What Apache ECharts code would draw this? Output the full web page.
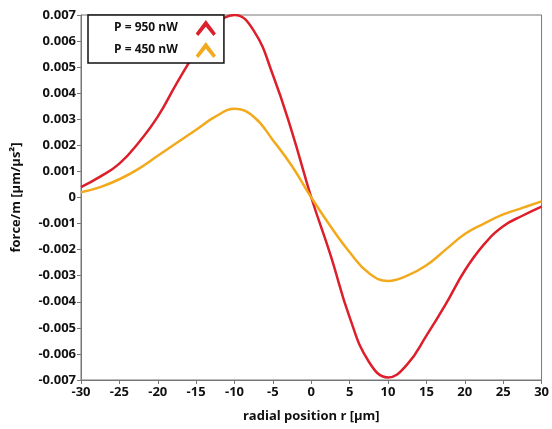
<!DOCTYPE html>
<html>
<head>
<meta charset="utf-8">
<script src="https://cdn.jsdelivr.net/npm/echarts@6/dist/echarts.min.js"></script>
<style>
html,body{margin:0;padding:0;background:#fff;}
#main{width:552px;height:429px;}
</style>
</head>
<body>
<div id="main"></div>
<script>
// radial position r [µm]
const radius = [-30,-27.5,-25,-22.5,-20,-17.5,-15,-12.5,-10,-7.5,-5,-2.5,0,2.5,5,7.5,10,12.5,15,17.5,20,22.5,25,27.5,30];
// force/m for P = 950 nW
const force950 = [0.0004,0.0008,0.0013,0.0021,0.0031,0.0044,0.0056,0.0066,0.0070,0.0064,0.0047,0.0025,0.0000,-0.0022,-0.0046,-0.0063,-0.0069,-0.0064,-0.0053,-0.0041,-0.0028,-0.0018,-0.0011,-0.0007,-0.00035];
// force/m for P = 450 nW
const force450 = [0.0002,0.0004,0.0007,0.0011,0.0016,0.0021,0.0026,0.0031,0.0034,0.0031,0.0022,0.0012,0.0000,-0.0011,-0.0021,-0.0029,-0.0032,-0.0030,-0.0026,-0.0020,-0.0014,-0.0010,-0.00065,-0.0004,-0.00015];
const seriesNames = ['P = 950 nW','P = 450 nW'];

let mycharts = echarts.init(document.getElementById('main'));
const lbl = {color:'#111', fontWeight:'bold', fontSize:13, fontFamily:'Open Sans'};
const chev = 'path://M0,10 L6,2 L12,10 L10.5,11.5 L6,6 L1.5,11.5 Z';

let options = {
  animation:false,
  grid:{left:81, right:9, top:15, bottom:49, show:true, borderColor:'#777', borderWidth:1},
  legend:{
    left:88, top:15, orient:'vertical', align:'right',
    data:seriesNames, icon:chev, itemWidth:26, itemHeight:16, itemGap:6,
    borderColor:'#111', borderWidth:1.5, padding:[5,8,5,26],
    backgroundColor:'#fff',
    textStyle:{color:'#111', fontWeight:'bold', fontSize:12, fontFamily:'Open Sans', padding:[0,10,0,0]}
  },
  xAxis:{
    type:'value', min:-30, max:30, interval:5,
    name:'radial position r [µm]', nameLocation:'center', nameGap:30,
    nameTextStyle:lbl,
    axisLine:{onZero:false, lineStyle:{color:'#777'}},
    axisTick:{length:4, lineStyle:{color:'#777'}},
    axisLabel:Object.assign({margin:6}, lbl),
    splitLine:{show:false}
  },
  yAxis:{
    type:'value', min:-0.007, max:0.007, interval:0.001,
    name:'force/m [µm/µs²]', nameLocation:'center', nameGap:58,
    nameTextStyle:lbl,
    axisLine:{onZero:false, lineStyle:{color:'#777'}},
    axisTick:{length:4, lineStyle:{color:'#777'}},
    axisLabel:Object.assign({margin:5, formatter:v => Math.abs(v) < 1e-9 ? '0' : v.toFixed(3)}, lbl),
    splitLine:{show:false}
  },
  series:[
    {name:seriesNames[0], type:'line', smooth:0.45, showSymbol:false,
     data:radius.map((r,i)=>[r,force950[i]]),
     lineStyle:{color:'#dc1f2b', width:2.5}, itemStyle:{color:'#dc1f2b'}},
    {name:seriesNames[1], type:'line', smooth:0.45, showSymbol:false,
     data:radius.map((r,i)=>[r,force450[i]]),
     lineStyle:{color:'#f2aa1c', width:2.5}, itemStyle:{color:'#f2aa1c'}}
  ]
};
mycharts.setOption(options, true);
</script>
</body>
</html>
